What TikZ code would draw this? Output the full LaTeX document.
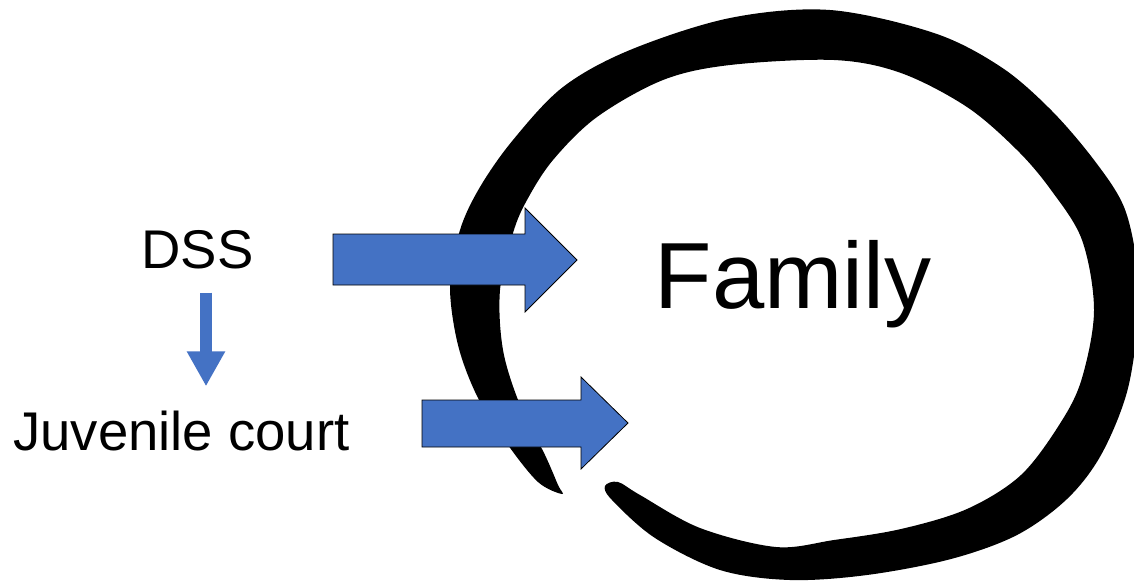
\documentclass[tikz,border=0pt]{standalone}
\usepackage{fontspec}
\setmainfont{Liberation Sans}
\usepackage{tikz}
\usetikzlibrary{arrows.meta, positioning}

\definecolor{officeblue}{HTML}{4472C4}

\begin{document}
\begin{tikzpicture}[
        x=1pt, y=-1pt,
        every node/.style={inner sep=0pt, anchor=base},
        label/.style={font=\fontsize{54.5}{62}\selectfont},
        bigarrow/.style={fill=officeblue, draw=black, line width=0.8pt, line join=miter},
        downarrow/.style={draw=officeblue, line width=12pt, -{Triangle[width=36pt, length=35pt]}},
        loop/.style={fill=black}
    ]
        \useasboundingbox (0,0) rectangle (1134,582);

        % brush loop around the family
        \fill[loop] plot[smooth cycle, tension=0.55] coordinates {
            (562,494) (538,482) (508,445) (478,398) (458,345) (450,285) (460,230)
            (480,187) (513,140) (563,87) (630,50) (730,18) (830,10) (934,33)
            (1001,67) (1051,110) (1094,160) (1124,207) (1137,265) (1138,320)
            (1127,392) (1101,455) (1067,499) (1017,535) (951,559) (867,575)
            (790,580) (720,570) (655,538) (612,500) (605,486)
            (618,482) (640,495) (700,528) (776,547) (834,540) (901,529) (967,509)
            (1021,475) (1061,422) (1082,378) (1094,310) (1082,240) (1051,190)
            (1017,150) (967,107) (901,73) (834,60) (730,65) (663,80) (597,117)
            (553,160) (527,200) (513,233) (500,290) (503,350) (520,405) (545,455)
            (558,485)};

        \node[font=\fontsize{94}{110}\selectfont] (family) at (793,308) {Family};
        \node[label] (dss) at (197.5,268) {DSS};
        \node[label] (juv) at (181.5,450) {Juvenile court};

        \draw[downarrow] ([xshift=8.5pt, yshift=-24pt]dss.south) -- ([xshift=24.5pt, yshift=24pt]juv.north);

        \filldraw[bigarrow] (333,234) -- (525,234) -- (525,208) -- (577,260) -- (525,312) -- (525,285) -- (333,285) -- cycle;
        \filldraw[bigarrow] (422,400) -- (581,400) -- (581,377) -- (628,423) -- (581,469) -- (581,447) -- (422,447) -- cycle;
    \end{tikzpicture}
\end{document}
